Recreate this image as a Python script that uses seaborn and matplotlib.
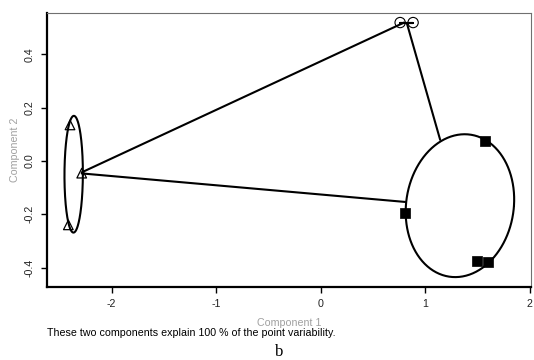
import numpy as np
import pandas as pd
import matplotlib
matplotlib.use("Agg")
import matplotlib.pyplot as plt
import seaborn as sns

# --- data ---
comp1 = [-2.397, -2.285, -2.413, 0.761, 0.885, 1.577, 0.812, 1.495, 1.597]
comp2 = [0.135, -0.046, -0.240, 0.519, 0.519, 0.076, -0.196, -0.374, -0.381]
cluster = ["1", "1", "1", "2", "2", "3", "3", "3", "3"]

# ellipse parameters per cluster: centre x, centre y, half-width x, half-height y, shear
ell_cx = [-2.362, 0.823, 1.333]
ell_cy = [-0.050, 0.519, -0.168]
ell_a = [0.088, 0.062, 0.517]
ell_b = [0.219, 0.000, 0.268]
ell_s = [0.002, 0.000, 0.045]

# connecting lines between clusters (start x, start y, end x, end y)
seg_x0 = [-2.285, -2.285, 0.825]
seg_y0 = [-0.043, -0.047, 0.517]
seg_x1 = [0.799, 0.809, 1.144]
seg_y1 = [0.519, -0.154, 0.079]

xticks = [-2, -1, 0, 1, 2]
yticks = [-0.4, -0.2, 0.0, 0.2, 0.4]
xlabel = "Component 1"
ylabel = "Component 2"
caption = "These two components explain 100 % of the point variability."
sublabel = "b"

sns.set_theme(style="white")
plt.rcParams["font.family"] = ["Liberation Sans", "DejaVu Sans"]

FS = 7.7

fig = plt.figure(figsize=(5.34, 3.6), dpi=100)
ax = fig.add_axes([46.7 / 534, 1 - 286.7 / 360, (530.7 - 46.7) / 534, (286.7 - 12.7) / 360])

df = pd.DataFrame({"c1": comp1, "c2": comp2, "cluster": cluster})

# ellipses
t = np.linspace(0, 2 * np.pi, 400)
for cx, cy, a, b, s in zip(ell_cx, ell_cy, ell_a, ell_b, ell_s):
    ax.plot(cx + a * np.cos(t) + s * np.sin(t), cy + b * np.sin(t),
            color="black", lw=1.5, zorder=2)

# connecting lines
for x0, y0, x1, y1 in zip(seg_x0, seg_y0, seg_x1, seg_y1):
    ax.plot([x0, x1], [y0, y1], color="black", lw=1.5, zorder=2)

# points
d1 = df[df.cluster == "1"]
sns.scatterplot(data=d1, x="c1", y="c2", marker="^", s=48, facecolor="none",
                edgecolor="black", linewidth=0.9, ax=ax, zorder=3)
d2 = df[df.cluster == "2"]
sns.scatterplot(data=d2, x="c1", y="c2", marker="o", s=55, facecolor="none",
                edgecolor="black", linewidth=0.8, ax=ax, zorder=3)
d3 = df[df.cluster == "3"]
sns.scatterplot(data=d3, x="c1", y="c2", marker="s", s=55, color="black",
                edgecolor="black", linewidth=0.5, ax=ax, zorder=3)

ax.set_xlim(-2.62, 2.01)
ax.set_ylim(-0.472, 0.556)
ax.set_xticks(xticks)
ax.set_xticklabels([f"{v:g}" for v in xticks])
ax.set_yticks(yticks)
ax.set_yticklabels([f"{v:.1f}" for v in yticks], rotation=90, va="center")
ax.set_xlabel("")
ax.set_ylabel("")

ax.tick_params(axis="both", which="both", direction="out", length=4, width=1,
               color="black", labelsize=FS, labelcolor="#222222",
               bottom=True, left=True, top=False, right=False, pad=5)

for side in ["left", "bottom"]:
    ax.spines[side].set_color("black")
    ax.spines[side].set_linewidth(1.6)
for side in ["top", "right"]:
    ax.spines[side].set_color("#707070")
    ax.spines[side].set_linewidth(0.8)

fig.text(288.7 / 534, 1 - 322.7 / 360, xlabel, ha="center", va="center",
         fontsize=FS, color="#a0a0a0")
fig.text(15 / 534, 1 - 149.7 / 360, ylabel, ha="center", va="center",
         rotation=90, fontsize=FS, color="#a0a0a0")
fig.text(47 / 534, 1 - 332.7 / 360, caption, ha="left", va="center",
         fontsize=FS, color="black")
fig.text(279 / 534, 1 - 359.5 / 360, sublabel, ha="center", va="bottom",
         fontsize=12, color="black", family=["Liberation Serif", "DejaVu Serif"])

fig.savefig("out.png", dpi=100)
